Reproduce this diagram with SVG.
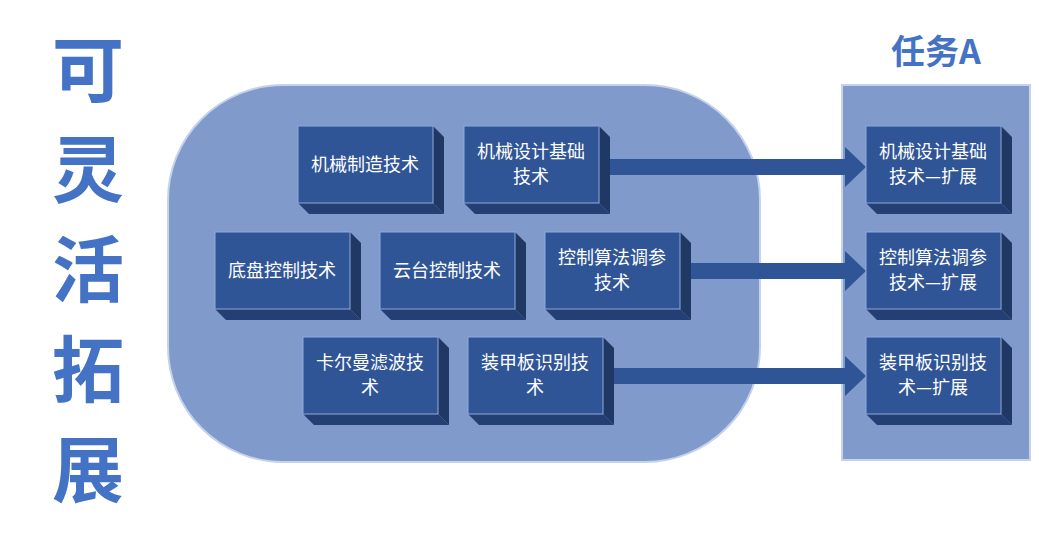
<svg xmlns="http://www.w3.org/2000/svg" width="1039" height="548" viewBox="0 0 1039 548">
<defs>
<style>
.t{font-family:"Noto Sans CJK SC","Noto Sans",sans-serif;fill:#fff;font-size:18px;text-anchor:middle}
.big{font-family:"Noto Sans CJK SC",sans-serif;fill:#4472c4;font-weight:bold;text-anchor:middle}
.f{fill:#2f5597;stroke:#8faadc;stroke-width:1}
.s{fill:#1f3864}
.b{fill:#243f74}
.ar{fill:#2f5597}
</style>
<g id="box">
<polygon class="b" points="0,77 135,77 146,88 11,88"/>
<polygon class="s" points="135,0 146,11 146,88 135,77"/>
<rect class="f" x="0" y="0" width="135" height="77"/>
</g>
</defs>
<rect width="1039" height="548" fill="#fff"/>
<g id="title-left">
<text class="big" x="88" y="96" font-size="72">可</text>
<text class="big" x="88" y="196" font-size="72">灵</text>
<text class="big" x="88" y="296" font-size="72">活</text>
<text class="big" x="88" y="396" font-size="72">拓</text>
<text class="big" x="88" y="496" font-size="72">展</text>
</g>
<g id="group-left"><rect x="168" y="85" width="592" height="377" rx="115" fill="#7f9acb" stroke="#c5d2ea" stroke-width="2"/></g>
<g id="group-right"><rect x="842" y="85" width="188" height="375" fill="#7f9acb" stroke="#c5d2ea" stroke-width="2"/>
<text class="big" x="936" y="64" font-size="34" font-weight="normal">任务A</text></g>
<g id="connectors">
<polygon class="ar" points="599,159 845,159 845,147 866,167 845,187 845,175 599,175"/>
<polygon class="ar" points="680,263 845,263 845,251 866,271 845,291 845,279 680,279"/>
<polygon class="ar" points="603,368 845,368 845,356 866,376 845,396 845,384 603,384"/>
</g>
<g id="n1" transform="translate(298,126)"><use href="#box"/><text class="t" x="67" y="45">机械制造技术</text></g>
<g id="n2" transform="translate(464,126)"><use href="#box"/><text class="t" x="67" y="32">机械设计基础</text><text class="t" x="67" y="57">技术</text></g>
<g id="n3" transform="translate(215,232)"><use href="#box"/><text class="t" x="67" y="45">底盘控制技术</text></g>
<g id="n4" transform="translate(380,232)"><use href="#box"/><text class="t" x="67" y="45">云台控制技术</text></g>
<g id="n5" transform="translate(545,232)"><use href="#box"/><text class="t" x="67" y="32">控制算法调参</text><text class="t" x="67" y="57">技术</text></g>
<g id="n6" transform="translate(303,337)"><use href="#box"/><text class="t" x="67" y="32">卡尔曼滤波技</text><text class="t" x="67" y="57">术</text></g>
<g id="n7" transform="translate(468,337)"><use href="#box"/><text class="t" x="67" y="32">装甲板识别技</text><text class="t" x="67" y="57">术</text></g>
<g id="r1" transform="translate(866,126)"><use href="#box"/><text class="t" x="67" y="32">机械设计基础</text><text class="t" x="67" y="57">技术—扩展</text></g>
<g id="r2" transform="translate(866,232)"><use href="#box"/><text class="t" x="67" y="32">控制算法调参</text><text class="t" x="67" y="57">技术—扩展</text></g>
<g id="r3" transform="translate(866,337)"><use href="#box"/><text class="t" x="67" y="32">装甲板识别技</text><text class="t" x="67" y="57">术—扩展</text></g>
</svg>
